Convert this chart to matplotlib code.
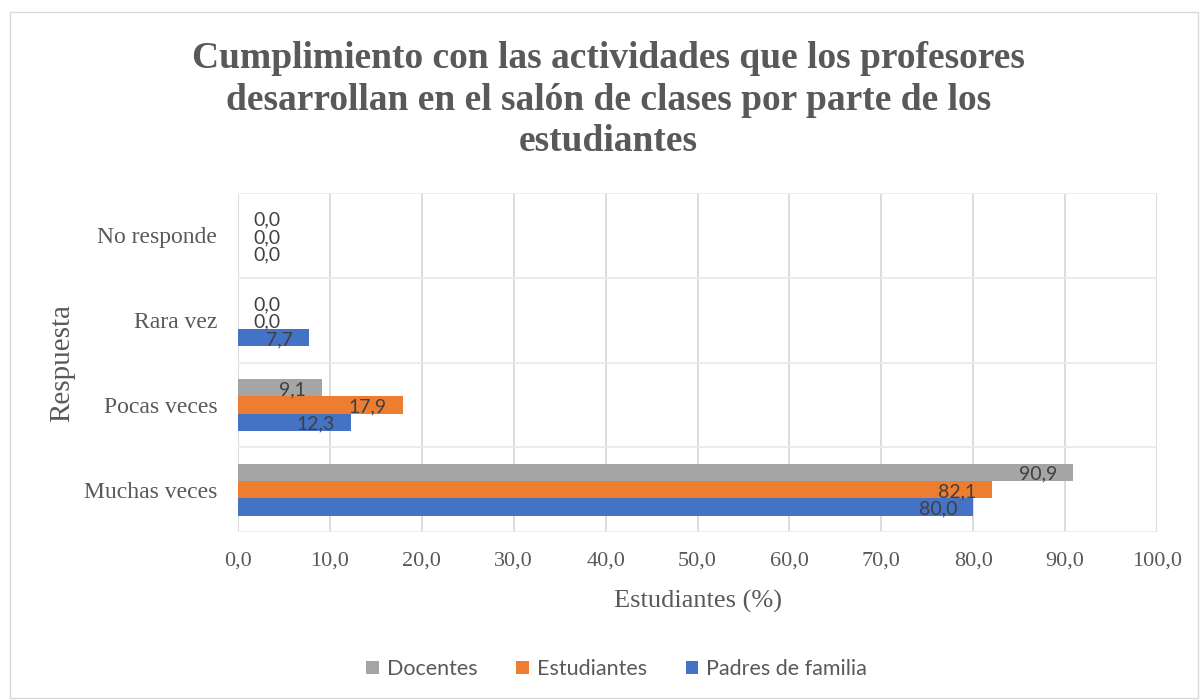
import matplotlib.pyplot as plt
from matplotlib.patches import Rectangle
from matplotlib.ticker import MultipleLocator, FuncFormatter

# chart data
categories = ["Muchas veces", "Pocas veces", "Rara vez", "No responde"]
series_names = ["Docentes", "Estudiantes", "Padres de familia"]
docentes = [90.9, 9.1, 0.0, 0.0]
estudiantes = [82.1, 17.9, 0.0, 0.0]
padres = [80.0, 12.3, 7.7, 0.0]

# style
COLORS = ["#A5A5A5", "#ED7D31", "#4472C4"]
OFFSETS = [0.204, 0.0, -0.204]
BAR_H = 0.204
SERIF = "Liberation Serif"
SANS = "Lato"
TEXT_GRAY = "#595959"
GRID = "#D9D9D9"

fig = plt.figure(figsize=(12.02, 7.0), dpi=100)
fig.patches.append(Rectangle((10 / 1202, 2 / 700), 1188 / 1202, 686 / 700,
                             transform=fig.transFigure, fill=False,
                             edgecolor=GRID, linewidth=1.0))
ax = fig.add_axes([238 / 1202, 1 - 532 / 700, 919 / 1202, 339 / 700])

all_series = [docentes, estudiantes, padres]
for name, vals, col, off in zip(series_names, all_series, COLORS, OFFSETS):
    ys = [i + off for i in range(len(categories))]
    ax.barh(ys, vals, height=BAR_H, color=col, label=name, zorder=3)
    for y, v in zip(ys, vals):
        txt = ("%.1f" % v).replace(".", ",")
        if v > 0:
            ax.annotate(txt, (v, y), xytext=(-16, -2), textcoords="offset pixels",
                        ha="right", va="center", fontsize=14, color="#404040",
                        family=SANS, zorder=4)
        else:
            ax.annotate(txt, (0, y), xytext=(15, -2), textcoords="offset pixels",
                        ha="left", va="center", fontsize=14, color="#404040",
                        family=SANS, zorder=4)

ax.set_xlim(0, 100)
ax.set_ylim(-0.5, 3.5)
ax.xaxis.set_major_locator(MultipleLocator(10))
ax.xaxis.set_major_formatter(FuncFormatter(lambda x, p: ("%.1f" % x).replace(".", ",")))
ax.set_yticks(range(len(categories)))
ax.set_yticklabels(categories)
ax.yaxis.set_minor_locator(MultipleLocator(0.5))
ax.grid(True, which="major", axis="x", color=GRID, linewidth=1.3, zorder=0)
ax.grid(True, which="minor", axis="y", color="#EBEBEB", linewidth=1.3, zorder=0)
for s in ax.spines.values():
    s.set_visible(False)
ax.tick_params(axis="both", which="both", length=0)
ax.tick_params(axis="x", pad=14, labelsize=16, labelcolor=TEXT_GRAY)
ax.tick_params(axis="y", pad=15, labelsize=17, labelcolor=TEXT_GRAY)
for lab in ax.get_xticklabels() + ax.get_yticklabels():
    lab.set_family(SERIF)

ax.set_xlabel("Estudiantes (%)", family=SERIF, fontsize=19, color=TEXT_GRAY, labelpad=14)
ax.set_ylabel("Respuesta", family=SERIF, fontsize=21, color=TEXT_GRAY, labelpad=6)

fig.text(0.506, 1 - 100 / 700,
         "Cumplimiento con las actividades que los profesores\n"
         "desarrollan en el salón de clases por parte de los\n"
         "estudiantes",
         ha="center", va="center", family=SERIF, fontsize=27, fontweight="bold",
         color=TEXT_GRAY, linespacing=1.25)

leg = fig.legend(loc="center", bbox_to_anchor=(0.513, 1 - 669 / 700), ncol=3,
                 frameon=False, prop={"family": SANS, "size": 15.5},
                 handlelength=0.6, handleheight=0.6, handletextpad=0.35,
                 columnspacing=1.8)
for t in leg.get_texts():
    t.set_color(TEXT_GRAY)

fig.savefig("out.png", dpi=100)
